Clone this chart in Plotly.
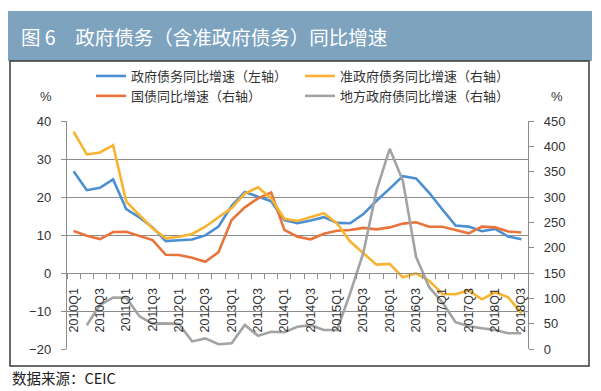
import plotly.graph_objects as go

quarters = [f"{y}Q{q}" for y in range(2010, 2019) for q in range(1, 5)][:35]
x_idx = list(range(len(quarters)))
tick_idx = list(range(0, 35, 2))
tick_text = [quarters[i] for i in tick_idx]

gov_debt = [26.8, 21.8, 22.4, 24.6, 16.8, 14.6, 12.0, 8.4, 8.6, 8.8, 9.9, 12.2,
            17.7, 21.3, 20.1, 18.9, 13.9, 13.1, 13.8, 14.7, 13.2, 13.1, 15.5, 19.0,
            22.2, 25.5, 24.9, 21.1, 16.7, 12.5, 12.2, 11.0, 11.6, 9.6, 8.9]
quasi_gov = [429, 384, 388, 402, 291, 264.5, 238, 218.5, 221.6, 227, 241.4, 260,
             278, 307, 319, 297.4, 257, 252.6, 260, 268, 248, 212, 189, 166.5,
             168, 141.5, 149.4, 134.5, 108.5, 108, 115.5, 98, 112, 102, 70.4]
treasury = [232.9, 223.6, 217, 230.9, 231.5, 222.6, 215.1, 186, 185.5, 180, 172.3, 191,
            254.6, 279.6, 297.4, 309, 235, 221.6, 216.5, 227.5, 233.5, 234.8, 239, 236.2,
            240, 247.5, 250, 241.4, 241.4, 234.8, 228.3, 241.4, 240, 232, 229.8]
local_gov = [None, 47, 87, 101.5, 101, 64.5, 50, 50.5, 49.3, 15, 21, 9.5,
             11.2, 47.4, 26, 34, 33, 44, 47, 37.5, 37.5, 110, 190, 313,
             395, 332, 182, 122, 92, 53, 45, 41, 37.5, 31, 31]

# page has an 8px body margin: figure drawn 8px smaller and content positions in page pixels
OFF = 8
W, H = 601 - OFF, 391 - OFF
L, R, T, B = 67, 528, 121, 349  # plot area in page pixels

def px(x):
    return (x - L) / (R - L)

def py(y):
    return (B - y) / (B - T)

BLUE = "#4B8FD2"
ORANGE = "#E8743B"
GOLD = "#F8B330"
GRAY = "#A3A3A3"
GRID = "#8C8C8C"
CJK = "Noto Sans CJK SC"
LAT = "Liberation Sans"
NB = "\u00a0\u00a0"

fig = go.Figure()
fig.add_trace(go.Scatter(x=x_idx, y=gov_debt, name="政府债务同比增速（左轴）", mode="lines",
                         line=dict(color=BLUE, width=2.6), legend="legend", legendgroup="a"))
fig.add_trace(go.Scatter(x=x_idx, y=treasury, name="国债同比增速（右轴）", mode="lines",
                         line=dict(color=ORANGE, width=2.6), yaxis="y2", legend="legend", legendgroup="b"))
fig.add_trace(go.Scatter(x=x_idx, y=quasi_gov, name="准政府债务同比增速（右轴）", mode="lines",
                         line=dict(color=GOLD, width=2.6), yaxis="y2", legend="legend2", legendgroup="c"))
fig.add_trace(go.Scatter(x=x_idx, y=local_gov, name="地方政府债同比增速（右轴）", mode="lines",
                         line=dict(color=GRAY, width=2.6), yaxis="y2", legend="legend2", legendgroup="d"))

legend_common = dict(orientation="v", xanchor="left", yanchor="top",
                     font=dict(family=CJK, size=13, color="#333333"),
                     bgcolor="rgba(0,0,0,0)", tracegroupgap=6, traceorder="normal")

fig.update_layout(
    width=W, height=H,
    margin=dict(l=L - OFF, r=(W + OFF) - R, t=T - OFF, b=(H + OFF) - B, pad=0),
    paper_bgcolor="white", plot_bgcolor="white",
    showlegend=True,
    legend=dict(x=px(91), y=py(61), **legend_common),
    legend2=dict(x=px(300), y=py(61), **legend_common),
    xaxis=dict(range=[-0.5, 34.5], anchor="free", position=1/3,
               showline=True, linecolor=GRID, linewidth=1,
               showgrid=False, zeroline=False,
               tickmode="array", tickvals=tick_idx, ticktext=tick_text,
               tickangle=-90, ticks="", ticklabelstandoff=9,
               tickfont=dict(family=LAT, size=12.5, color="#333333"),
               minor=dict(tickmode="linear", tick0=-0.5, dtick=1, ticks="outside",
                          ticklen=5, tickcolor=GRID, tickwidth=1, showgrid=False)),
    yaxis=dict(range=[-20, 40], dtick=10, tick0=0, showgrid=True, gridcolor=GRID, gridwidth=1,
               zeroline=False, showline=True, linecolor=GRID, linewidth=1,
               ticks="outside", ticklen=5, tickcolor=GRID, ticksuffix=NB,
               tickfont=dict(family=LAT, size=13, color="#333333")),
    yaxis2=dict(range=[0, 450], dtick=50, tick0=0, overlaying="y", side="right",
                showgrid=False, zeroline=False, showline=True, linecolor=GRID, linewidth=1,
                ticks="outside", ticklen=5, tickcolor=GRID, tickprefix=NB,
                tickfont=dict(family=LAT, size=13, color="#333333")),
    shapes=[
        dict(type="rect", xref="paper", yref="paper", x0=px(8), x1=px(592), y0=py(61), y1=py(11),
             fillcolor="#7DA3BF", line=dict(width=0), layer="below"),
        dict(type="rect", xref="paper", yref="paper", x0=px(10), x1=px(589), y0=py(366), y1=py(61),
             fillcolor="rgba(0,0,0,0)", line=dict(color="#3A3A3A", width=1.5), layer="below"),
    ],
    annotations=[
        dict(text="图 6　政府债务（含准政府债务）同比增速", xref="paper", yref="paper",
             x=px(19), y=py(37), xanchor="left", yanchor="middle", showarrow=False,
             font=dict(family=CJK, size=19.5, color="white")),
        dict(text="数据来源：CEIC", xref="paper", yref="paper",
             x=px(10), y=py(377), xanchor="left", yanchor="middle", showarrow=False,
             font=dict(family=CJK, size=14.5, color="#222222")),
        dict(text="%", xref="paper", yref="paper", x=px(46), y=py(97),
             xanchor="center", yanchor="middle", showarrow=False,
             font=dict(family=LAT, size=13, color="#333333")),
        dict(text="%", xref="paper", yref="paper", x=px(557), y=py(97),
             xanchor="center", yanchor="middle", showarrow=False,
             font=dict(family=LAT, size=13, color="#333333")),
    ],
)

fig.write_html("out.html")
